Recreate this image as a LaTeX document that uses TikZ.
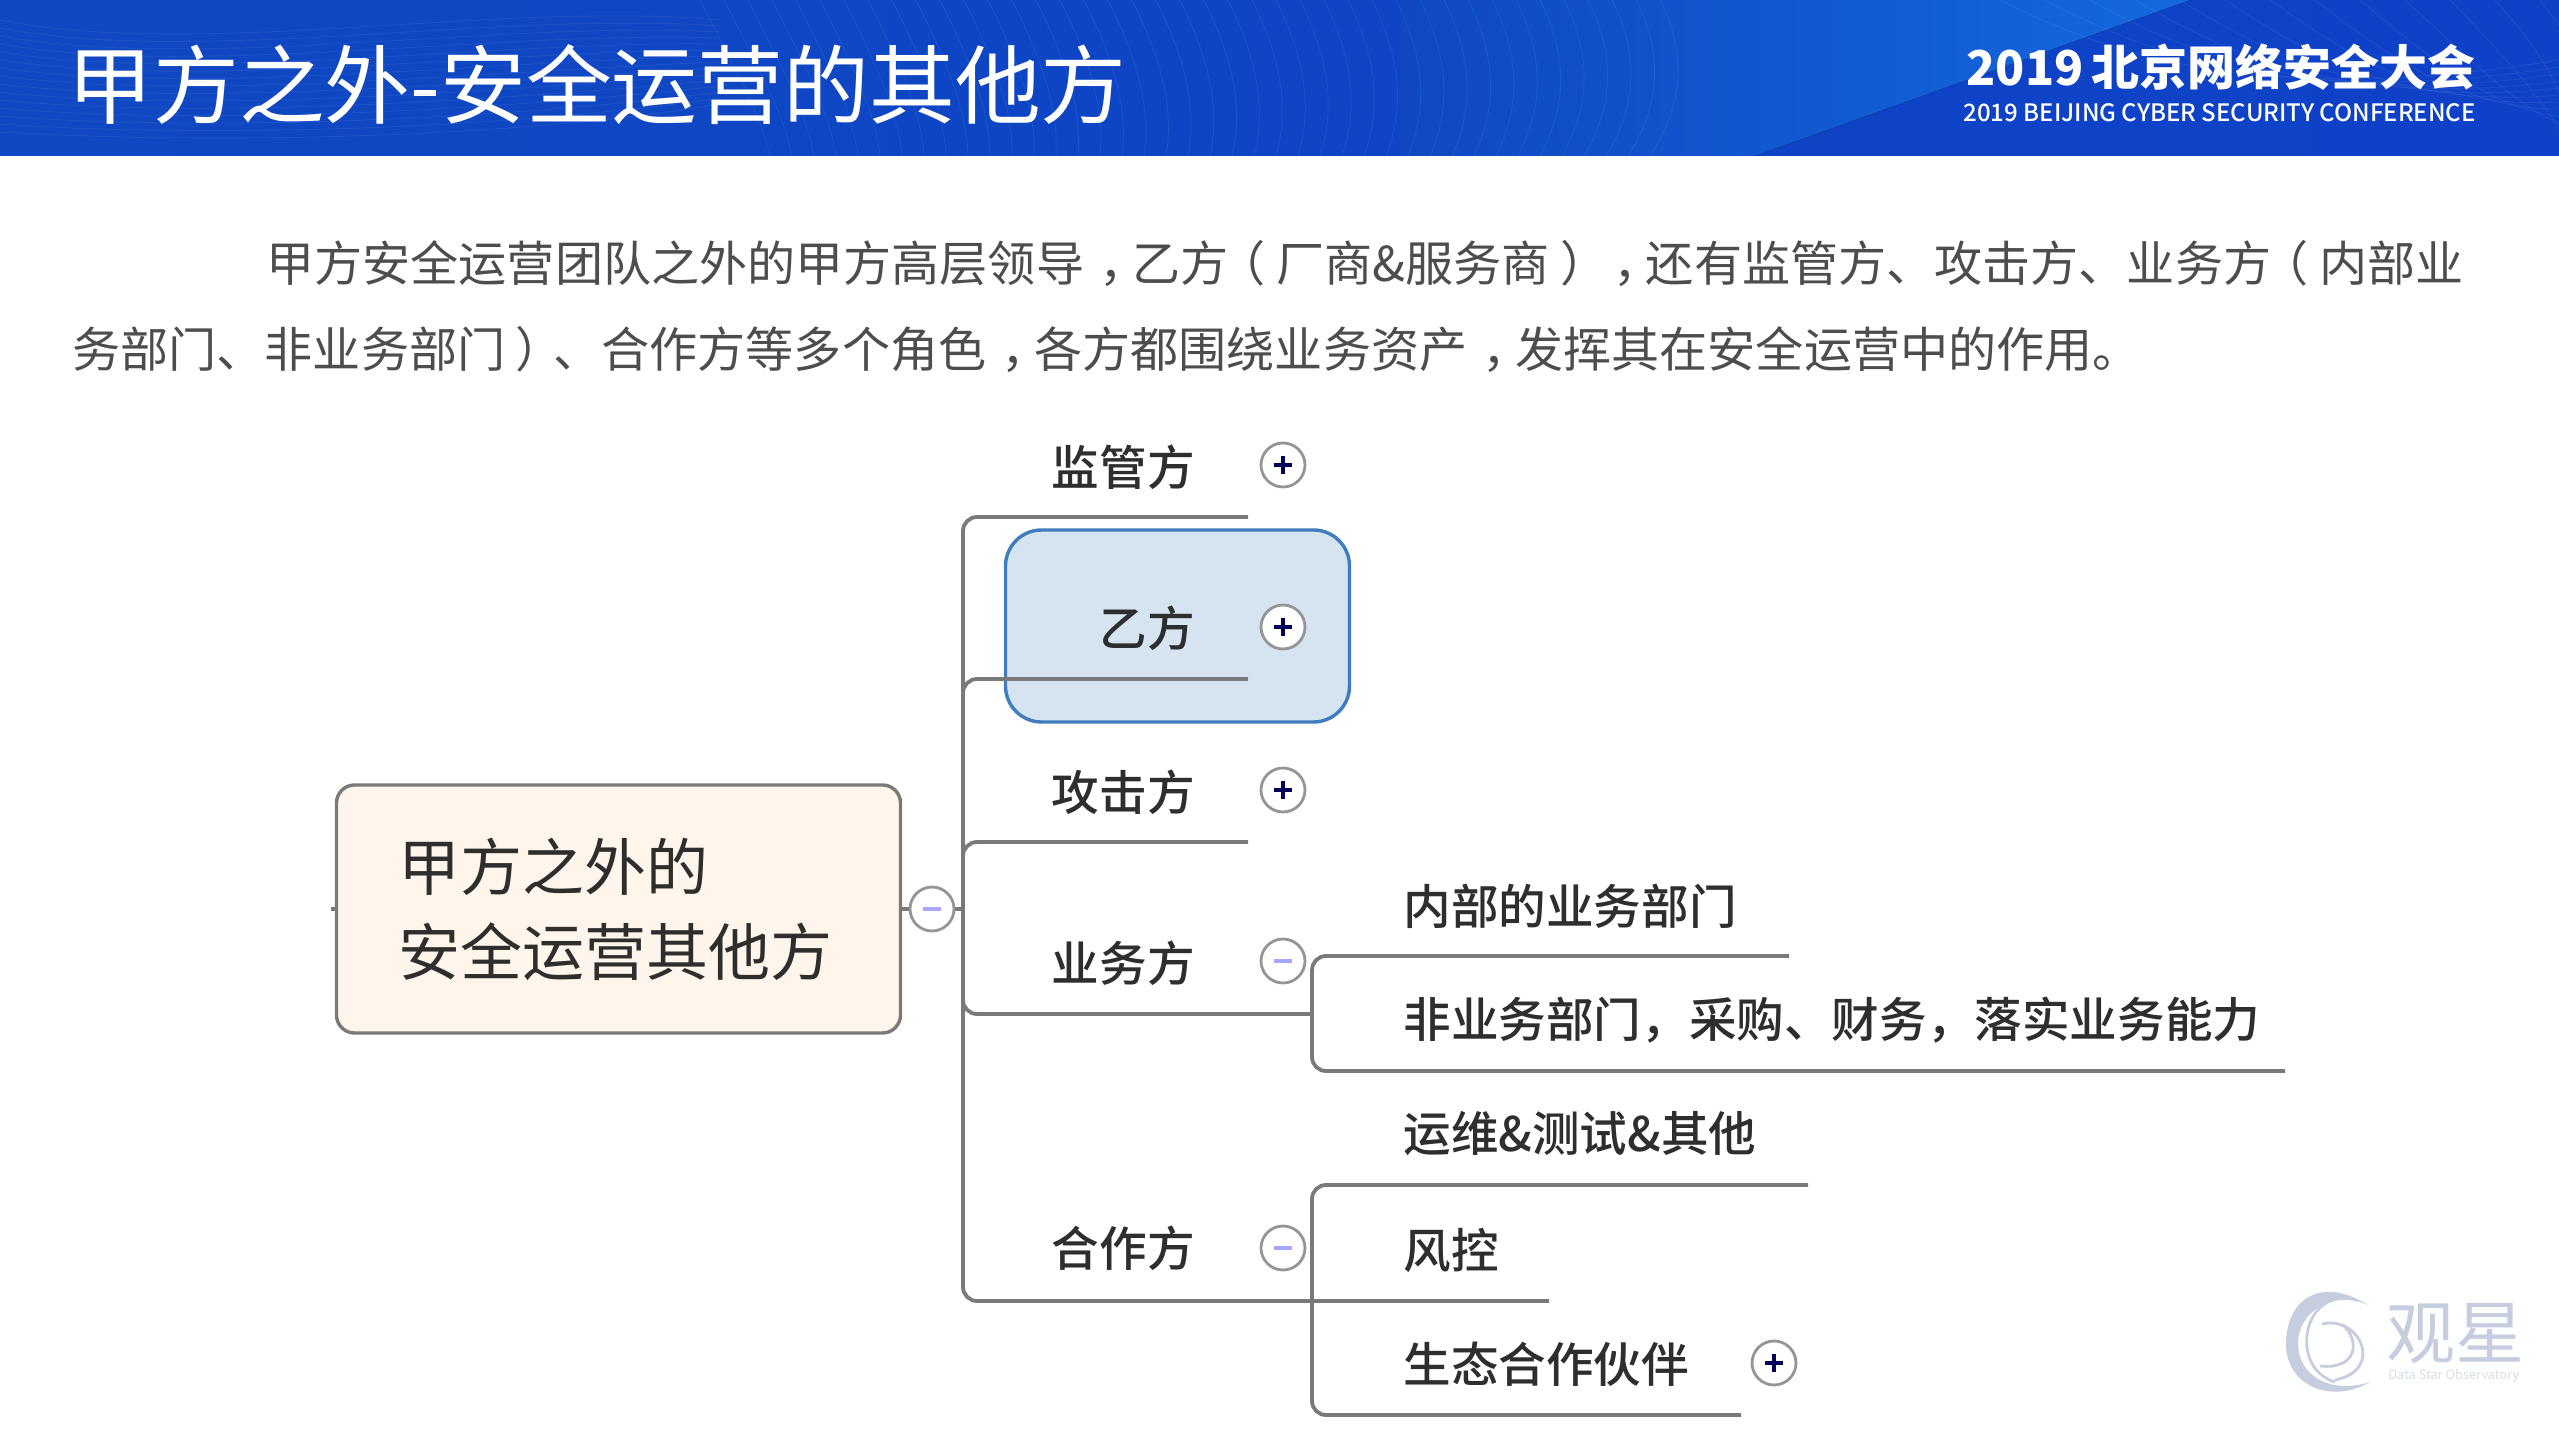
\documentclass[tikz,border=0pt]{standalone}
\usepackage{fontspec}
\setmainfont{Noto Sans CJK SC}
\newfontfamily\mediumfont{Noto Sans CJK SC Medium}
\newcommand{\midcomma}{\hbox to 1em{\hskip0.32em\rlap{，}\hfil}}
\newcommand{\midopen}{\hbox to 1em{\hskip-0.22em\rlap{（}\hfil}}
\newcommand{\midclose}{\hbox to 1em{\hskip0.22em\rlap{）}\hfil}}
\usetikzlibrary{positioning}
\definecolor{headblue}{HTML}{0F48C2}
\definecolor{headlight}{HTML}{1468DE}
\definecolor{branchgray}{HTML}{7A7A7A}
\definecolor{inktext}{HTML}{2E2E2E}
\definecolor{markcolor}{HTML}{C6CDDF}
\definecolor{boxfill}{HTML}{D6E3F1}
\definecolor{boxline}{HTML}{3F7DBE}
\tikzset{
  bodytext/.style={anchor=west, inner sep=0pt, text=inktext!85, font=\fontsize{24.05}{24}\selectfont},
  topic/.style={anchor=east, inner sep=0pt, text=inktext, font=\mediumfont\fontsize{23.8}{23.8}\selectfont},
  subtopic/.style={anchor=west, inner sep=0pt, text=inktext, font=\mediumfont\fontsize{23.8}{23.8}\selectfont},
  branch/.style={draw=branchgray, line width=1.9pt, rounded corners=7pt},
  foldbase/.style={circle, draw=branchgray!80, line width=1.4pt, fill=white, minimum size=22pt, inner sep=0pt},
  foldplus/.style={foldbase, path picture={
    \draw[line width=1.6pt, color=blue!35!black] (path picture bounding box.center) ++(-9,0) -- ++(18,0);
    \draw[line width=1.6pt, color=blue!35!black] (path picture bounding box.center) ++(0,-9) -- ++(0,18);}},
  foldminus/.style={foldbase, path picture={
    \draw[line width=1.6pt, color=blue!35!white] (path picture bounding box.center) ++(-9,0) -- ++(18,0);}},
}
\begin{document}
\begin{tikzpicture}[x=0.5pt,y=-0.5pt]
\useasboundingbox (0,0) rectangle (2559,1439);
% header band
\fill[left color=headblue, right color=headblue!90!blue] (0,0) rectangle (2559,156);
\fill[left color=headblue, right color=headlight] (1400,156) -- (1755,156) -- (2190,0) -- (1400,0) -- cycle;
\foreach \i in {0,...,40} {
  \draw[cyan!60, opacity=.12, line width=.4pt] (700+24*\i,0) .. controls (730+24*\i,60) and (760+23*\i,110) .. (770+22*\i,156);
}
\foreach \i in {0,...,14} {
  \draw[white, opacity=.06, line width=.5pt] (2000+45*\i,0) .. controls (2100+40*\i,50) and (2250+30*\i,110) .. (2559,60+7*\i);
  \draw[white, opacity=.06, line width=.5pt] (0,20+8*\i) .. controls (200,60+6*\i) and (500,10*\i) .. (720,20+6*\i);
}
\node[anchor=west, inner sep=0pt, text=white, font=\fontsize{42.9}{42.9}\selectfont] (title) at (67,85) {甲方之外-安全运营的其他方};
\node[anchor=east, inner sep=0pt, text=white, font=\bfseries\fontsize{24}{24}\selectfont] (confcn) at (2476,67) {2019\,北京网络安全大会};
\node[anchor=east, inner sep=0pt, text=white, font=\mediumfont\fontsize{12}{12}\selectfont] (confen) at (2476,113) {\resizebox{256pt}{!}{2019 BEIJING CYBER SECURITY CONFERENCE}};
% intro
\node[bodytext] (introa) at (266,263) {甲方安全运营团队之外的甲方高层领导\midcomma 乙方\midopen 厂商\&服务商\midclose\midcomma 还有监管方、攻击方、业务方\midopen 内部业};
\node[bodytext] (introb) at (72,349.5) {务部门、非业务部门\midclose、合作方等多个角色\midcomma 各方都围绕业务资产\midcomma 发挥其在安全运营中的作用。};
% highlighted box
\node[draw=boxline, fill=boxfill, line width=1.7pt, rounded corners=18pt, minimum width=172pt, minimum height=96pt] (yfbox) at (1177.5,626) {};
% root
\node[draw=branchgray, fill=orange!8, line width=1.7pt, rounded corners=9pt, minimum width=282pt, minimum height=124pt, inner xsep=31pt, text width=220pt, align=left, text=inktext, font=\fontsize{31}{42.5}\selectfont] (root) at (618.5,909) {甲方之外的\\安全运营其他方};
% branch ends
\coordinate (trunkmid) at (963,930);
\coordinate (trunkbot) at (963,1301);
\coordinate (jgend) at (1248,517);
\coordinate (yfend) at (1248,679);
\coordinate (gjend) at (1248,842);
\coordinate (ywjoin) at (1312,1014);
\coordinate (hzend) at (1549,1301);
\coordinate (nbend) at (1789,956);
\coordinate (fyend) at (2285,1071);
\coordinate (ywbot) at (1312,1071);
\coordinate (ywend) at (1808,1185);
\coordinate (stbot) at (1312,1415);
\coordinate (stend) at (1741,1415);
\coordinate (rootstub) at (331,909);
\draw[branch] (jgend) -| (trunkbot) -- (hzend);
\draw[branch] (yfend) -| (trunkmid);
\draw[branch] (gjend) -| (trunkmid);
\draw[branch] (ywjoin) -| (trunkmid);
\draw[branch] (nbend) -| (ywbot) -- (fyend);
\draw[branch] (ywend) -| (stbot) -- (stend);
\draw[branch] (root.west) -- (rootstub);
% fold marks
\node[foldminus] (rootfold) at (932,909) {};
\draw[branch] (root.east) -- (rootfold);
\draw[branch] (rootfold) -- (rootfold -| trunkmid);
\node[foldplus] (jgfold) at (1283,465) {};
\node[foldplus] (yffold) at (1283,627) {};
\node[foldplus] (gjfold) at (1283,790) {};
\node[foldminus] (ywfold) at (1283,961) {};
\node[foldminus] (hzfold) at (1283,1248) {};
\node[foldplus] (stfold) at (1774,1363) {};
% topics
\node[topic] (jg) at (1195,467) {监管方};
\node[topic] (yf) at (1195,628) {乙方};
\node[topic] (gj) at (1195,792) {攻击方};
\node[topic] (yw) at (1195,963) {业务方};
\node[topic] (hz) at (1195,1248) {合作方};
\node[subtopic] (nb) at (1403,906) {内部的业务部门};
\node[subtopic] (fy) at (1403,1020) {非业务部门，采购、财务，落实业务能力};
\node[subtopic] (yc) at (1403,1134) {运维\&测试\&其他};
\node[subtopic] (fk) at (1403,1250) {风控};
\node[subtopic] (st) at (1403,1364) {生态合作伙伴};
% watermark
\fill[markcolor] (2368,1305) .. controls (2320,1275) and (2286,1300) .. (2286,1344) .. controls (2286,1385) and (2330,1405) .. (2370,1382) .. controls (2330,1395) and (2298,1375) .. (2298,1344) .. controls (2298,1310) and (2335,1290) .. (2368,1305) -- cycle;
\draw[markcolor, line width=1.4pt] (2333,1300) .. controls (2300,1310) and (2295,1370) .. (2335,1382);
\draw[markcolor, line width=1.4pt] (2322,1324) .. controls (2360,1315) and (2385,1370) .. (2335,1380);
\draw[markcolor, line width=1.4pt] (2343,1325) .. controls (2360,1340) and (2358,1370) .. (2320,1366);
\node[anchor=west, inner sep=0pt, text=markcolor, font=\fontsize{34.5}{34.5}\selectfont] (markcn) at (2386,1334) {观星};
\node[anchor=west, inner sep=0pt, text=markcolor!70, font=\fontsize{6.4}{6.4}\selectfont] (markenglish) at (2388,1376) {Data Star Observatory};
\end{tikzpicture}
\end{document}
